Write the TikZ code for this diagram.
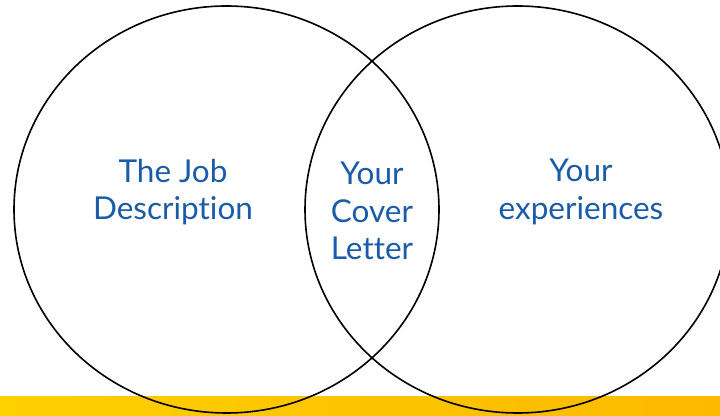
\documentclass[tikz,border=0pt]{standalone}
\usepackage{fontspec}
\setmainfont{Lato}[Ligatures=NoCommon]
\definecolor{labelblue}{HTML}{1B5CA8}
\definecolor{baryellow}{HTML}{FDD000}
\definecolor{barorange}{HTML}{FCB900}

\begin{document}
\begin{tikzpicture}[
    x=1pt, y=1pt,
    bar/.style={left color=baryellow, right color=barorange},
    set/.style={draw=black, line width=1.6pt},
    settext/.style={text=labelblue, align=center, font=\fontsize{31.5}{37.5}\selectfont}
    ]
    \clip (0,0) rectangle (720,415);
    \fill [white] (0,0) rectangle (720,415);

    % bottom strip
    \path [bar] (0,0) rectangle (720,19);

    % the two sets
    \draw [set] (226.5,205.5) ellipse [x radius=212.5, y radius=203.5];
    \draw [set] (517.5,205.5) ellipse [x radius=212.5, y radius=203.5];

    \node [settext] (jobdesc) at (173,223) {The Job\\Description};
    \node [settext] (coverletter) at (372,204) {Your\\Cover\\Letter};
    \node [settext] (experiences) at (581,223) {Your\\experiences};
\end{tikzpicture}
\end{document}
